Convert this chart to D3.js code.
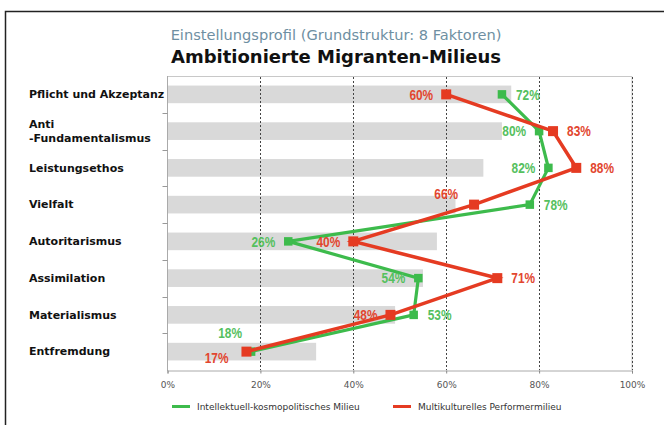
<!DOCTYPE html>
<html>
	<head>
		<meta charset="utf-8">
		<script src="https://d3js.org/d3.v7.min.js"></script>
		<style>
			body { margin: 0; background: #fff; }
			svg { display: block; }
		</style>
	</head>
	<body>
		<svg id="viz"></svg>
	</body>
	<script type="text/javascript">
		// data
		var categories = ["Pflicht und Akzeptanz", "Anti|-Fundamentalismus", "Leistungsethos", "Vielfalt",
			"Autoritarismus", "Assimilation", "Materialismus", "Entfremdung"];
		var baseValues = [74, 72, 68, 62, 58, 55, 49, 32];   // grey bars
		var intellValues = [72, 80, 82, 78, 26, 54, 53, 18];  // Intellektuell-kosmopolitisches Milieu
		var multiValues = [60, 83, 88, 66, 40, 71, 48, 17];   // Multikulturelles Performermilieu
		var intellLabelSide = ["right", "left", "left", "right", "left", "left", "right", "above"];
		var multiLabelSide = ["left", "right", "right", "aboveleft", "left", "right", "left", "belowleft"];
		var xTicks = [0, 20, 40, 60, 80, 100];
		var seriesNames = ["Intellektuell-kosmopolitisches Milieu", "Multikulturelles Performermilieu"];

		var width = 664, height = 425;
		var green = "#3dbb4c", red = "#e53b22";
		var greenText = "#55c05e", redText = "#e2462f";
		var sans = "'DejaVu Sans', Verdana, sans-serif";

		var svg = d3.select("#viz")
			.attr("width", width)
			.attr("height", height);

		svg.append("rect").attr("width", width).attr("height", height).attr("fill", "#fff");

		// outer frame (only top and left visible)
		svg.append("path")
			.attr("d", "M5.5," + height + "V11.5H" + width)
			.attr("fill", "none")
			.attr("stroke", "#222")
			.attr("stroke-width", 1.5);

		// titles
		svg.append("text")
			.attr("x", 336).attr("y", 40)
			.attr("text-anchor", "middle")
			.style("font-family", sans)
			.style("font-size", "14.6px")
			.style("fill", "#6e8fa2")
			.text("Einstellungsprofil (Grundstruktur: 8 Faktoren)");

		svg.append("text")
			.attr("x", 336).attr("y", 63)
			.attr("text-anchor", "middle")
			.style("font-family", sans)
			.style("font-weight", "bold")
			.style("font-size", "18px")
			.style("fill", "#111")
			.text("Ambitionierte Migranten-Milieus");

		var x = d3.scaleLinear().domain([0, 100]).range([167.5, 632]);
		var y = d3.scaleBand().domain(categories).range([76, 370]).padding(0);
		var barH = y.bandwidth() * 0.48;
		var cy = function (i) { return y(categories[i]) + y.bandwidth() / 2; };

		// plot frame top/right
		svg.append("path")
			.attr("d", "M" + x(0) + ",76.5H" + x(100) + "V370")
			.attr("fill", "none")
			.attr("stroke", "#c8c8c8");

		// grey bars
		svg.append("g").selectAll("rect")
			.data(baseValues).enter()
			.append("rect")
			.attr("x", x(0))
			.attr("y", function (d, i) { return cy(i) - barH / 2; })
			.attr("width", function (d) { return x(d) - x(0); })
			.attr("height", barH)
			.attr("fill", "#d9d9d9");

		// dashed gridlines
		svg.append("g").selectAll("line")
			.data(xTicks.slice(1)).enter()
			.append("line")
			.attr("x1", function (d) { return Math.round(x(d)) + 0.5; })
			.attr("x2", function (d) { return Math.round(x(d)) + 0.5; })
			.attr("y1", 77).attr("y2", 370)
			.attr("stroke", "#444")
			.attr("stroke-dasharray", "2,2");

		// y axis line and small ticks at band boundaries
		var yAxis = svg.append("g");
		yAxis.append("line")
			.attr("x1", x(0)).attr("x2", x(0))
			.attr("y1", 76).attr("y2", 371)
			.attr("stroke", "#aaa");
		yAxis.selectAll(".tk")
			.data(categories.slice(1)).enter()
			.append("line")
			.attr("x1", x(0) - 5).attr("x2", x(0))
			.attr("y1", function (d) { return Math.round(y(d)) + 0.5; })
			.attr("y2", function (d) { return Math.round(y(d)) + 0.5; })
			.attr("stroke", "#999");

		// category labels
		yAxis.selectAll(".cat")
			.data(categories).enter()
			.append("text")
			.attr("x", 29)
			.attr("y", function (d, i) { return cy(i); })
			.style("font-family", sans)
			.style("font-weight", "bold")
			.style("font-size", "11px")
			.style("fill", "#111")
			.each(function (d) {
				var parts = d.split("|");
				var t = d3.select(this);
				parts.forEach(function (p, k) {
					t.append("tspan")
						.attr("x", 29)
						.attr("dy", k === 0 ? (0.35 - (parts.length - 1) * 0.6) + "em" : "1.25em")
						.text(p);
				});
			});

		// x axis
		var xAxis = svg.append("g")
			.attr("transform", "translate(0,370.5)")
			.call(d3.axisBottom(x).tickValues(xTicks).tickSize(3).tickPadding(8).tickFormat(function (d) { return d + "%"; }));
		xAxis.select(".domain").attr("stroke", "#aaa");
		xAxis.selectAll(".tick line").attr("stroke", "#888");
		xAxis.selectAll("text")
			.style("font-family", sans)
			.style("font-size", "9px")
			.style("fill", "#555");

		// lines and markers
		var line = d3.line()
			.x(function (d) { return x(d); })
			.y(function (d, i) { return cy(i); });

		function drawSeries(values, color, sw, size) {
			var g = svg.append("g");
			g.append("path")
				.datum(values)
				.attr("d", line)
				.attr("fill", "none")
				.attr("stroke", color)
				.attr("stroke-width", sw)
				.attr("stroke-linejoin", "miter");
			g.selectAll("rect")
				.data(values).enter()
				.append("rect")
				.attr("x", function (d) { return x(d) - size / 2; })
				.attr("y", function (d, i) { return cy(i) - size / 2; })
				.attr("width", size).attr("height", size)
				.attr("fill", color);
		}
		drawSeries(intellValues, green, 3.2, 8.5);
		drawSeries(multiValues, red, 3.6, 10);

		// value labels (arial-narrow look: bold sans squeezed horizontally)
		var offsets = {
			right: { dx: 14, dy: 0, anchor: "start" },
			left: { dx: -13, dy: 0, anchor: "end" },
			aboveleft: { dx: -16, dy: -11, anchor: "end" },
			above: { dx: -21, dy: -19, anchor: "middle" },
			belowleft: { dx: -18, dy: 6, anchor: "end" }
		};
		function drawLabels(values, sides, color) {
			svg.append("g").selectAll("text")
				.data(values).enter()
				.append("text")
				.attr("transform", function (d, i) {
					var o = offsets[sides[i]];
					return "translate(" + (x(d) + o.dx) + "," + (cy(i) + o.dy) + ") scale(0.82,1)";
				})
				.attr("dy", "0.36em")
				.attr("text-anchor", function (d, i) { return offsets[sides[i]].anchor; })
				.style("font-family", "'Liberation Sans', Arial, sans-serif")
				.style("font-weight", "bold")
				.style("font-size", "14.5px")
				.style("fill", color)
				.text(function (d) { return d + "%"; });
		}
		drawLabels(intellValues, intellLabelSide, greenText);
		drawLabels(multiValues, multiLabelSide, redText);

		// legend
		var legend = svg.append("g").attr("transform", "translate(0,406.5)");
		var legendX = [172, 393];
		var legendColors = [green, red];
		seriesNames.forEach(function (name, i) {
			legend.append("line")
				.attr("x1", legendX[i]).attr("x2", legendX[i] + 18)
				.attr("stroke", legendColors[i])
				.attr("stroke-width", 3);
			legend.append("text")
				.attr("x", legendX[i] + 25)
				.attr("dy", "0.35em")
				.style("font-family", sans)
				.style("font-size", "9px")
				.style("fill", "#333")
				.text(name);
		});
	</script>
</html>
